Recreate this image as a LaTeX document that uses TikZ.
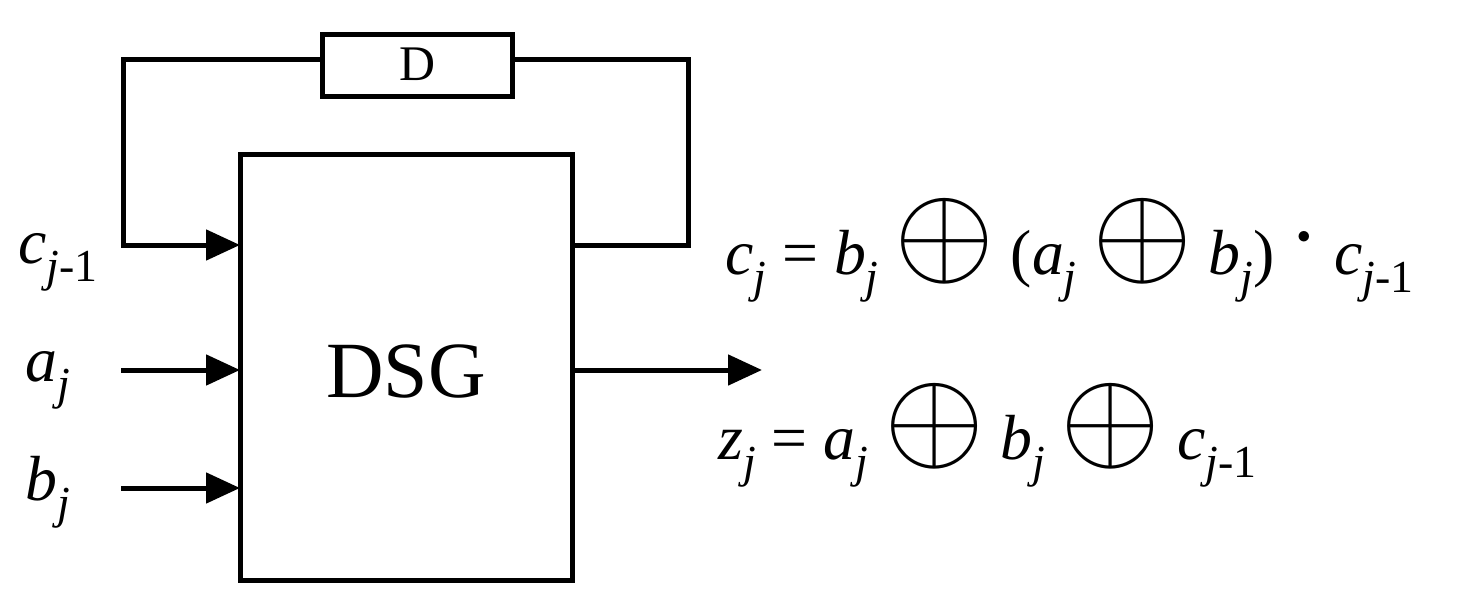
\documentclass[tikz,border=0pt]{standalone}
\usepackage{fontspec}
\setmainfont{Liberation Serif}
\usetikzlibrary{arrows.meta}
\newcommand\vsub[2]{\textit{#1}\raisebox{-0.28em}{\fontsize{46}{50}\selectfont #2}}
\newcommand\xo{\ \raisebox{0.02em}{\scalebox{5.2}{$\oplus$}}\ }
\newcommand\cdt{\ \raisebox{0.2em}{\scalebox{4}{$\cdot$}}\ }
\begin{document}
\begin{tikzpicture}[x=1bp,y=-1bp,
  wire/.style={line width=5bp},
  arr/.style={wire,-{Triangle[length=34bp,width=30bp]}},
  lbl/.style={font=\fontsize{64}{70}\selectfont,inner sep=0pt}]
\useasboundingbox (0,0) rectangle (1469,600);
\node[draw,line width=5bp,minimum width=332bp,minimum height=425bp,inner sep=0pt] (dsg) at (406,367.5) {};
\node[font=\fontsize{80}{90}\selectfont] at (406,372) {DSG};
\node[draw,line width=5bp,minimum width=190bp,minimum height=62bp,inner sep=0pt] (d) at (417,66) {};
\node[font=\fontsize{50}{60}\selectfont] at (417,64) {D};
\coordinate (cin) at (240,245);
\coordinate (ain) at (240,370);
\coordinate (bin) at (240,488);
\coordinate (cout) at (572,245);
\coordinate (zout) at (572,370);
\coordinate (zend) at (762,370);
\coordinate (a0) at (121,370);
\coordinate (b0) at (121,488);
\draw[arr] (d.west |- 0,60) -- (123,60) -- (123,245) -- (cin);
\draw[wire] (d.east |- 0,60) -- (688,60) -- (688,245) -- (cout);
\draw[arr] (a0) -- (ain);
\draw[arr] (b0) -- (bin);
\draw[arr] (zout) -- (zend);
\node[lbl,anchor=west] (lc) at (18,262) {\vsub{c}{\textit{j}-1}};
\node[lbl,anchor=west] (la) at (25,380) {\vsub{a}{\textit{j}}};
\node[lbl,anchor=west] (lb) at (25,492) {\vsub{b}{\textit{j}}};
\node[lbl,anchor=west] (eq1) at (725,250) {\vsub{c}{\textit{j}} = \vsub{b}{\textit{j}}\xo(\vsub{a}{\textit{j}}\xo\vsub{b}{\textit{j}})\cdt\vsub{c}{\textit{j}-1}};
\node[lbl,anchor=west] (eq2) at (718,435) {\vsub{z}{\textit{j}} = \vsub{a}{\textit{j}}\xo\vsub{b}{\textit{j}}\xo\vsub{c}{\textit{j}-1}};
\end{tikzpicture}
\end{document}
